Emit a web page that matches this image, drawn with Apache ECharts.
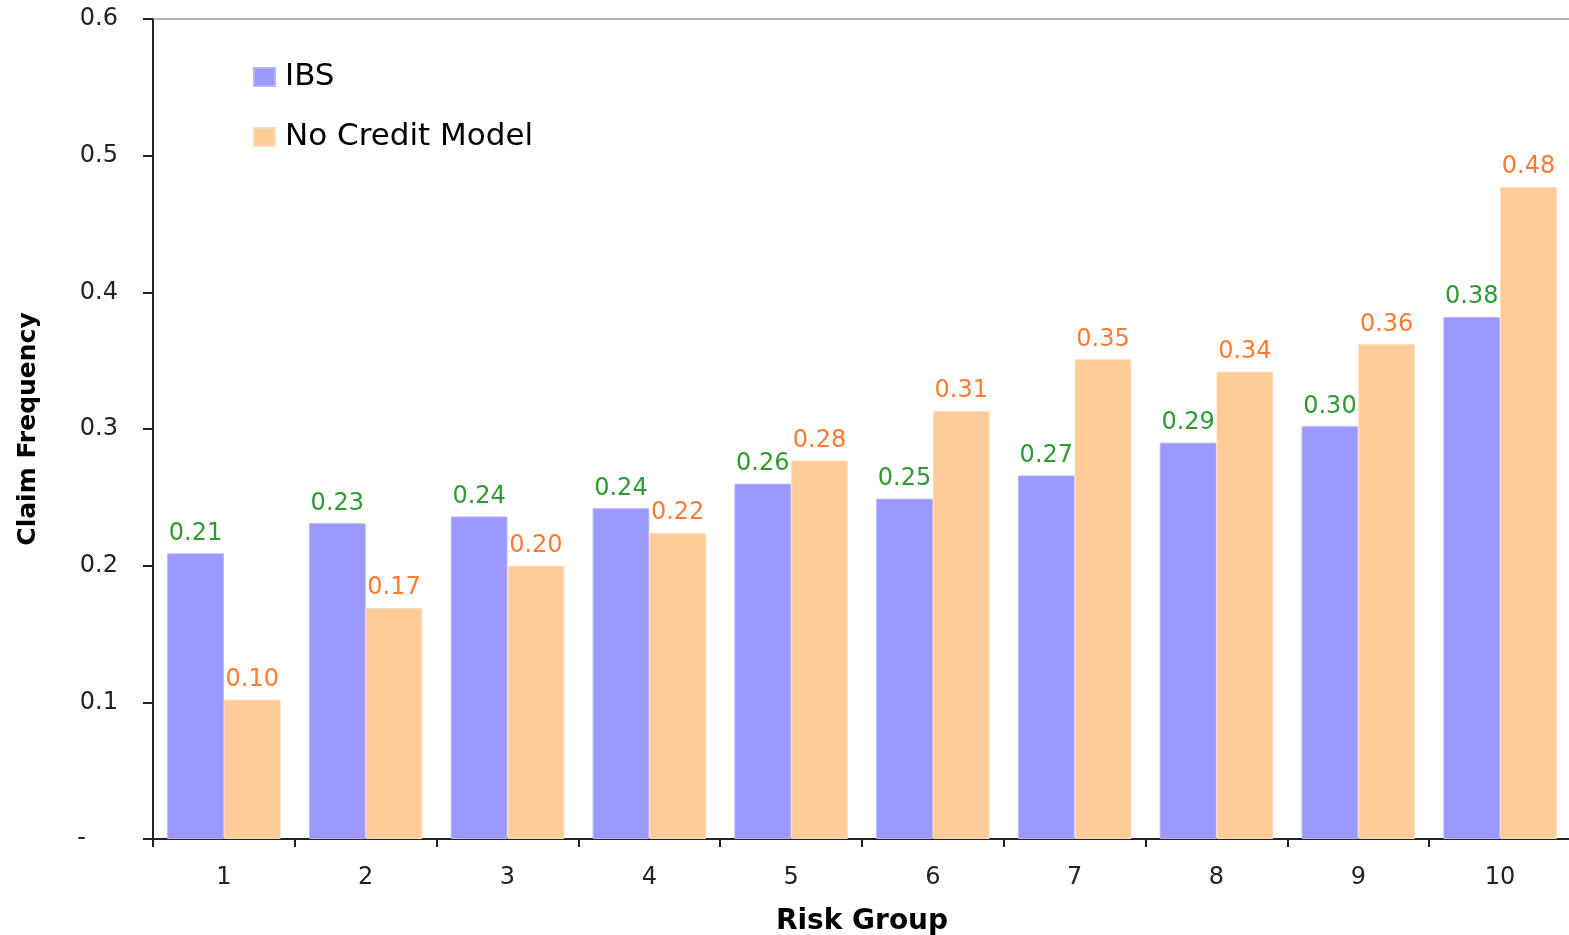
<!DOCTYPE html>
<html>
<head>
<meta charset="utf-8">
<title>Claim Frequency by Risk Group</title>
<script src="https://cdn.jsdelivr.net/npm/echarts@6/dist/echarts.min.js"></script>
<style>
  html, body { margin: 0; padding: 0; background: #ffffff; }
  #chart { width: 1569px; height: 935px; }
</style>
</head>
<body>
<div id="chart"></div>
<script>
// Risk groups on the x axis
const riskGroups = ['1', '2', '3', '4', '5', '6', '7', '8', '9', '10'];

// Claim frequency per risk group
const ibsValues = [0.209, 0.231, 0.236, 0.242, 0.260, 0.249, 0.266, 0.290, 0.302, 0.382];
const noCreditValues = [0.102, 0.169, 0.200, 0.224, 0.277, 0.313, 0.351, 0.342, 0.362, 0.477];

// Y axis range and step
const yMin = 0;
const yMax = 0.6;
const yStep = 0.1;

const FONT = 'DejaVu Sans';

const chart = echarts.init(document.getElementById('chart'), null, { renderer: 'canvas' });

const valueLabel = (color) => ({
  show: true,
  position: 'top',
  distance: 8,
  color: color,
  fontFamily: FONT,
  fontSize: 24,
  formatter: (p) => p.value.toFixed(2)
});

chart.setOption({
  animation: false,
  backgroundColor: '#ffffff',
  textStyle: { fontFamily: FONT },
  grid: { left: 153, right: -2, top: 19, bottom: 96, containLabel: false, outerBoundsMode: 'none' },
  legend: {
    orient: 'vertical',
    left: 248,
    top: 56,
    itemWidth: 21,
    itemHeight: 18,
    itemGap: 28,
    icon: 'rect',
    textStyle: { fontFamily: FONT, fontSize: 31, color: '#000000', lineHeight: 32, padding: [0, 0, 0, 5] },
    data: ['IBS', 'No Credit Model']
  },
  xAxis: [
    {
      type: 'category',
      data: riskGroups,
      position: 'bottom',
      name: 'Risk Group',
      nameLocation: 'middle',
      nameGap: 69,
      nameTextStyle: { fontFamily: FONT, fontSize: 28, fontWeight: 'bold', color: '#000000' },
      axisLine: { lineStyle: { color: '#222222', width: 2 } },
      axisTick: { show: true, length: 8, lineStyle: { color: '#222222', width: 2 } },
      axisLabel: { fontFamily: FONT, fontSize: 24, color: '#222222', margin: 27 },
      splitLine: { show: false }
    },
    {
      type: 'category',
      data: riskGroups,
      position: 'top',
      axisLine: { lineStyle: { color: '#9a9a9a', width: 1.5 } },
      axisTick: { show: false },
      axisLabel: { show: false },
      splitLine: { show: false }
    }
  ],
  yAxis: {
    type: 'value',
    min: yMin,
    max: yMax,
    interval: yStep,
    name: 'Claim Frequency',
    nameLocation: 'middle',
    nameGap: 112,
    nameRotate: 90,
    nameTextStyle: { fontFamily: FONT, fontSize: 25, fontWeight: 'bold', color: '#000000' },
    axisLine: { show: true, lineStyle: { color: '#222222', width: 2 } },
    axisTick: { show: true, length: 10, lineStyle: { color: '#222222', width: 2 } },
    splitLine: { show: false },
    axisLabel: {
      fontFamily: FONT,
      fontSize: 24,
      color: '#222222',
      margin: 35,
      formatter: (v) => (v === 0 ? '{dash|-}' : v.toFixed(1)),
      rich: {
        dash: { fontFamily: FONT, fontSize: 24, color: '#222222', padding: [0, 32, 0, 0] }
      }
    }
  },
  series: [
    {
      name: 'IBS',
      type: 'bar',
      xAxisIndex: 0,
      data: ibsValues,
      barGap: '0%',
      barCategoryGap: '20%',
      itemStyle: { color: '#9999ff', borderColor: '#b3b3ff', borderWidth: 1 },
      label: valueLabel('#2f9a2f')
    },
    {
      name: 'No Credit Model',
      type: 'bar',
      xAxisIndex: 0,
      data: noCreditValues,
      barGap: '0%',
      barCategoryGap: '20%',
      itemStyle: { color: '#ffcc99', borderColor: '#ffdcb8', borderWidth: 1 },
      label: valueLabel('#ff7a33')
    }
  ]
});
</script>
</body>
</html>
